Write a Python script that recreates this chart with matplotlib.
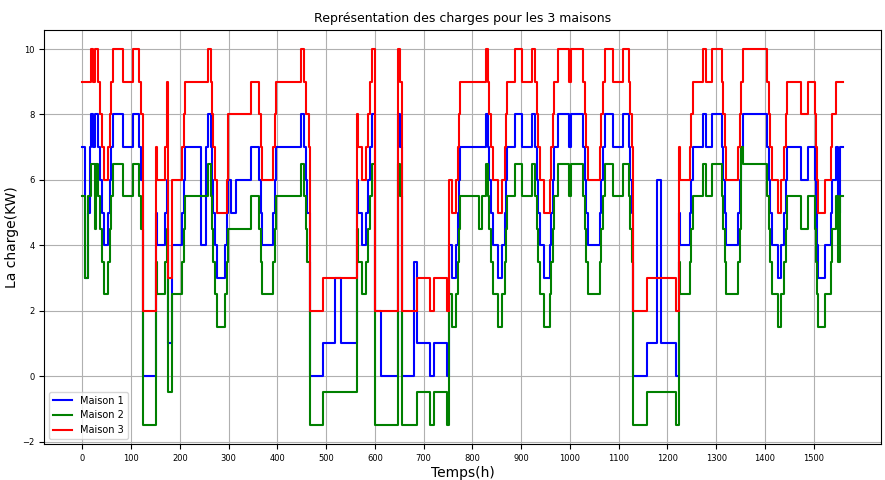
import matplotlib
matplotlib.use("Agg")
import matplotlib.pyplot as plt

# début de chaque palier (h) et charges (KW) des 3 maisons
t = [0, 5, 12, 16, 18, 23, 27, 29, 33, 37,
     40, 44, 53, 56, 59, 64, 84, 105, 117, 120,
     124, 151, 154, 170, 173, 176, 183, 205, 208, 211,
     244, 254, 258, 263, 266, 269, 272, 276, 293, 296,
     299, 306, 316, 345, 363, 366, 369, 392, 395, 398,
     449, 454, 458, 461, 464, 466, 493, 519, 531, 563,
     565, 573, 581, 586, 591, 594, 600, 613, 648, 652,
     655, 680, 687, 714, 722, 748, 751, 758, 767, 770,
     773, 775, 813, 820, 828, 832, 835, 838, 842, 853,
     860, 866, 868, 871, 888, 902, 923, 928, 932, 935,
     938, 947, 959, 962, 965, 968, 975, 998, 1002, 1027,
     1030, 1033, 1036, 1061, 1064, 1067, 1071, 1089, 1109, 1121,
     1124, 1127, 1130, 1157, 1179, 1187, 1217, 1224, 1226, 1246,
     1249, 1252, 1273, 1279, 1291, 1311, 1314, 1317, 1320, 1345,
     1348, 1351, 1355, 1405, 1408, 1411, 1414, 1426, 1432, 1439,
     1442, 1446, 1473, 1488, 1502, 1504, 1506, 1508, 1522, 1535,
     1538, 1545, 1550, 1554]
t_fin = 1559

maison1 = [7, 3, 5, 7, 8, 7, 8, 8, 7, 6,
           5, 4, 5, 6, 7, 8, 7, 8, 7, 6,
           0, 5, 4, 5, 6, 1, 4, 5, 6, 7,
           4, 7, 8, 7, 6, 5, 4, 3, 4, 5,
           6, 5, 6, 7, 6, 5, 4, 5, 6, 7,
           8, 7, 6, 5, 5, 0, 1, 3, 1, 6,
           5, 4, 5, 6, 7, 8, 2, 0, 8, 7,
           0, 3.5, 1, 0, 1, 0, 4, 3, 4, 5,
           6, 7, 7, 7, 8, 7, 6, 5, 4, 3,
           4, 5, 6, 7, 8, 7, 8, 7, 6, 5,
           4, 3, 4, 5, 6, 7, 8, 7, 8, 7,
           6, 5, 4, 5, 6, 7, 8, 7, 8, 7,
           6, 5, 0, 1, 6, 1, 0, 5, 4, 5,
           6, 7, 8, 7, 8, 7, 6, 5, 4, 5,
           6, 7, 8, 7, 6, 5, 4, 3, 4, 5,
           6, 7, 6, 7, 6, 5, 4, 3, 4, 5,
           6, 7, 5, 7]

maison2 = [5.5, 3, 5.5, 5.5, 6.5, 6.5, 4.5, 6.5, 5.5, 4.5,
           3.5, 2.5, 3.5, 4.5, 5.5, 6.5, 5.5, 6.5, 5.5, 4.5,
           -1.5, 3.5, 2.5, 3.5, 4.5, -0.5, 2.5, 3.5, 4.5, 5.5,
           5.5, 5.5, 6.5, 5.5, 4.5, 3.5, 2.5, 1.5, 2.5, 3.5,
           4.5, 4.5, 4.5, 5.5, 4.5, 3.5, 2.5, 3.5, 4.5, 5.5,
           6.5, 5.5, 4.5, 3.5, 3.5, -1.5, -0.5, -0.5, -0.5, 4.5,
           3.5, 2.5, 3.5, 4.5, 5.5, 6.5, -1.5, -1.5, 6.5, 5.5,
           -1.5, -1.5, -0.5, -1.5, -0.5, -1.5, 2.5, 1.5, 2.5, 3.5,
           4.5, 5.5, 4.5, 5.5, 6.5, 5.5, 4.5, 3.5, 2.5, 1.5,
           2.5, 3.5, 4.5, 5.5, 6.5, 5.5, 6.5, 5.5, 4.5, 3.5,
           2.5, 1.5, 2.5, 3.5, 4.5, 5.5, 6.5, 5.5, 6.5, 5.5,
           4.5, 3.5, 2.5, 3.5, 4.5, 5.5, 6.5, 5.5, 6.5, 5.5,
           4.5, 3.5, -1.5, -0.5, -0.5, -0.5, -1.5, 3.5, 2.5, 3.5,
           4.5, 5.5, 6.5, 5.5, 6.5, 5.5, 4.5, 3.5, 2.5, 3.5,
           4.5, 7, 6.5, 5.5, 4.5, 3.5, 2.5, 1.5, 2.5, 3.5,
           4.5, 5.5, 4.5, 5.5, 4.5, 3.5, 2.5, 1.5, 2.5, 3.5,
           4.5, 5.5, 3.5, 5.5]

maison3 = [9, 9, 9, 9, 10, 9, 10, 10, 9, 8,
           7, 6, 7, 8, 9, 10, 9, 10, 9, 8,
           2, 7, 6, 7, 9, 3, 6, 7, 8, 9,
           9, 9, 10, 9, 8, 7, 6, 5, 5, 6,
           8, 8, 8, 9, 8, 7, 6, 7, 8, 9,
           10, 9, 8, 8, 7, 2, 3, 3, 3, 8,
           7, 6, 7, 8, 9, 10, 2, 2, 10, 9,
           2, 2, 3, 2, 3, 2, 6, 5, 6, 7,
           8, 9, 9, 9, 10, 9, 8, 7, 6, 5,
           6, 7, 8, 9, 10, 9, 10, 9, 8, 7,
           6, 5, 6, 7, 8, 9, 10, 9, 10, 9,
           8, 7, 6, 7, 8, 9, 10, 9, 10, 9,
           8, 7, 2, 3, 3, 3, 2, 7, 6, 7,
           8, 9, 10, 9, 10, 9, 8, 7, 6, 7,
           8, 9, 10, 9, 8, 7, 6, 5, 6, 7,
           8, 9, 8, 9, 8, 7, 6, 5, 6, 7,
           8, 9, 9, 9]

x = t + [t_fin]
fig = plt.figure(figsize=(8.85, 4.8), dpi=100)
plt.subplots_adjust(left=0.05, right=0.995, top=0.937, bottom=0.075)
plt.step(x, maison1 + [maison1[-1]], where="post", color="blue", lw=1.5, label="Maison 1")
plt.step(x, maison2 + [maison2[-1]], where="post", color="green", lw=1.5, label="Maison 2")
plt.step(x, maison3 + [maison3[-1]], where="post", color="red", lw=1.5, label="Maison 3")
plt.xticks(range(0, 1600, 100), fontsize=6)
plt.yticks(fontsize=6)
plt.title("Représentation des charges pour les 3 maisons", fontsize=9)
plt.xlabel("Temps(h)", fontsize=10, labelpad=2)
plt.ylabel("La charge(KW)", fontsize=10, labelpad=2)
plt.grid(True)
plt.legend(loc="lower left", fontsize=7)
plt.savefig("out.png")
